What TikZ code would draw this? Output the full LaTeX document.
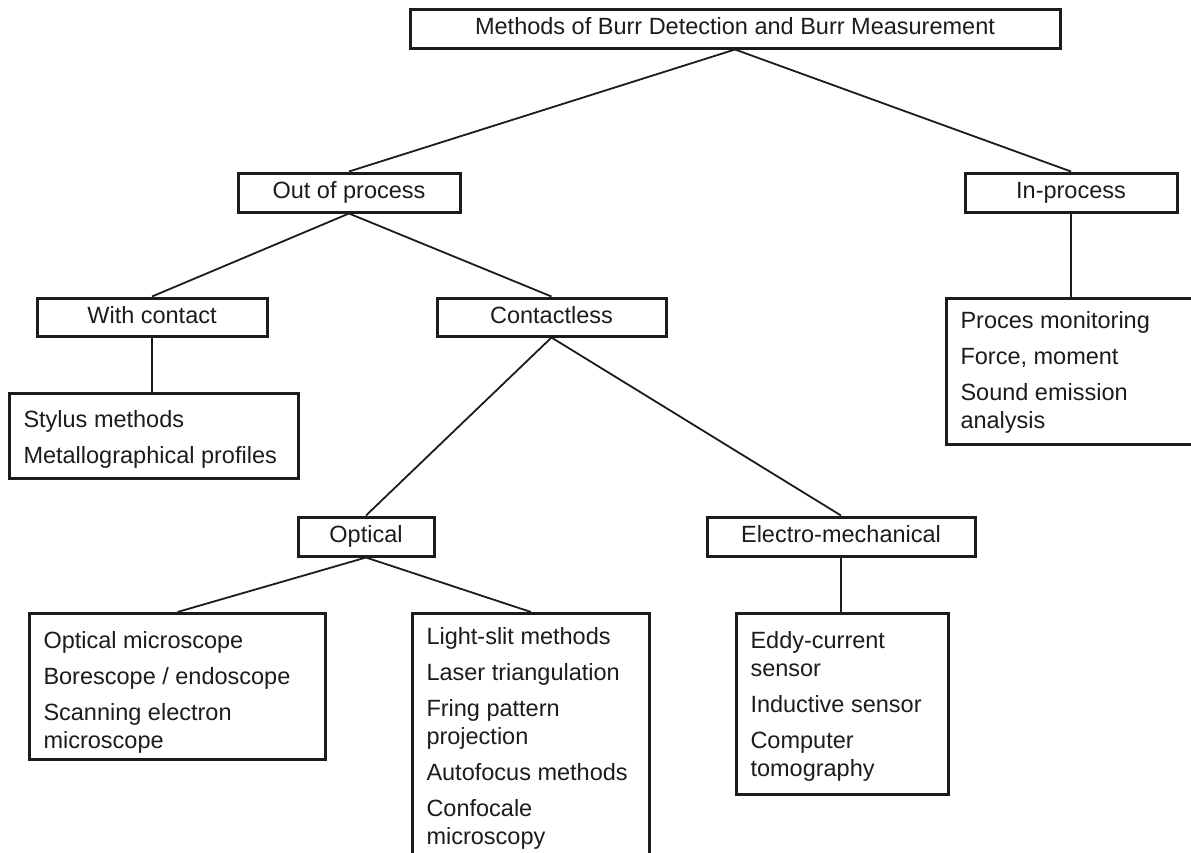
\documentclass[tikz,border=0pt]{standalone}
\usepackage{fontspec}
\setmainfont{Liberation Sans}
\definecolor{ink}{RGB}{28,28,28}
% width, height, first baseline, content
\newcommand{\listtext}[4]{\parbox[t][#2][t]{#1}{\raggedright\leftskip=14pt\rule{0pt}{#3}#4}}
\begin{document}
\begin{tikzpicture}[x=1pt,y=-1pt,
  every node/.style={font=\fontsize{23.5}{28}\selectfont, text=ink},
  label box/.style={draw=ink, line width=3pt, inner sep=0pt, text height=17pt, text depth=5pt},
  list box/.style={draw=ink, line width=3pt, inner sep=0pt, anchor=north west},
  conn/.style={draw=ink, line width=1.8pt}]
\useasboundingbox (0,0) rectangle (1191,852);
\clip (0,0) rectangle (1191,852);
\fill[white] (0,0) rectangle (1191,852);

\node[label box, minimum width=650pt, minimum height=39pt] (title) at (735,28.5) {Methods of Burr Detection and Burr Measurement};
\node[label box, minimum width=222pt, minimum height=39pt] (outp) at (349,192.5) {Out of process};
\node[label box, minimum width=212pt, minimum height=39pt] (inp) at (1071,192.5) {In-process};
\node[label box, minimum width=230pt, minimum height=38pt] (withc) at (152,317) {With contact};
\node[label box, minimum width=229pt, minimum height=38pt] (contl) at (551.5,317) {Contactless};
\node[label box, minimum width=136pt, minimum height=39pt] (optical) at (366,536.5) {Optical};
\node[label box, minimum width=268pt, minimum height=39pt] (electro) at (841,536.5) {Electro-mechanical};

\node[list box] (stylus) at (8,392) {\listtext{289pt}{85pt}{34pt}{Stylus methods\\[8pt]Metallographical profiles}};
\node[list box] (inlist) at (945,297) {\listtext{262pt}{146pt}{30pt}{Proces monitoring\\[8pt]Force, moment\\[8pt]Sound emission\\analysis}};
\node[list box] (optlist) at (28,612) {\listtext{296pt}{146pt}{35pt}{Optical microscope\\[8pt]Borescope / endoscope\\[8pt]Scanning electron\\microscope}};
\node[list box] (slitlist) at (411,612) {\listtext{237pt}{262pt}{31pt}{Light-slit methods\\[8pt]Laser triangulation\\[8pt]Fring pattern\\projection\\[8pt]Autofocus methods\\[8pt]Confocale\\microscopy}};
\node[list box] (eddylist) at (735,612) {\listtext{212pt}{181pt}{35pt}{Eddy-current\\sensor\\[8pt]Inductive sensor\\[8pt]Computer\\tomography}};

\draw[conn] (title.south) -- (outp.north);
\draw[conn] (title.south) -- (inp.north);
\draw[conn] (outp.south) -- (withc.north);
\draw[conn] (outp.south) -- (contl.north);
\draw[conn] (inp.south) -- (inp.south |- inlist.north);
\draw[conn] (withc.south) -- (withc.south |- stylus.north);
\draw[conn] (contl.south) -- (optical.north);
\draw[conn] (contl.south) -- (electro.north);
\draw[conn] (optical.south) -- (optlist.north);
\draw[conn] (optical.south) -- (slitlist.north);
\draw[conn] (electro.south) -- (electro.south |- eddylist.north);
\end{tikzpicture}
\end{document}
